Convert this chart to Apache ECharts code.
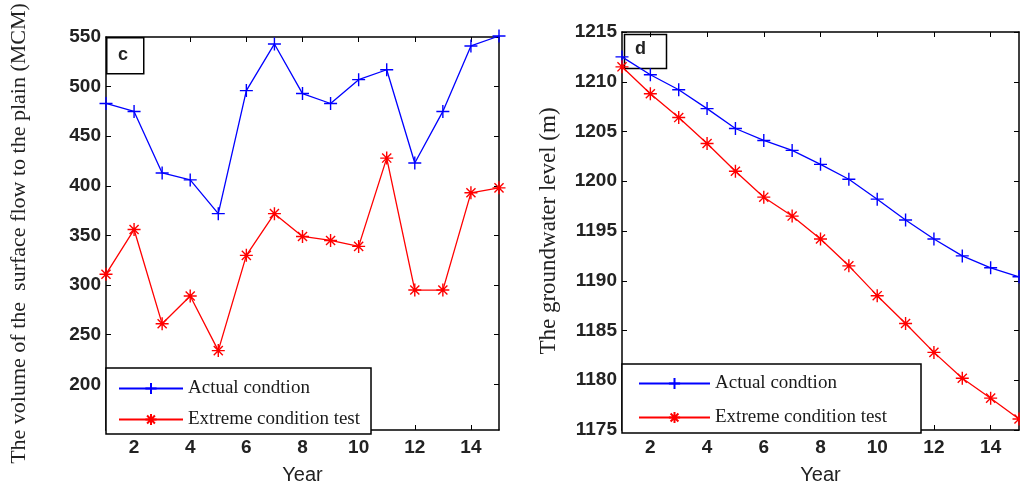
<!DOCTYPE html>
<html>
<head>
<meta charset="utf-8">
<script src="https://cdn.jsdelivr.net/npm/echarts@6/dist/echarts.min.js"></script>
<style>
  html, body { margin: 0; padding: 0; background: #fff; }
  #main { width: 1020px; height: 490px; }
</style>
</head>
<body>
<div id="main"></div>
<script>
  // years on the x axis
  var years = [1, 2, 3, 4, 5, 6, 7, 8, 9, 10, 11, 12, 13, 14, 15];
  var yearTicks = [2, 4, 6, 8, 10, 12, 14];

  // panel c: surface flow to the plain (MCM)
  var surfaceActual = [483, 475, 413, 406, 372, 496, 543, 493, 483, 507, 517, 423, 475, 541, 551];
  var surfaceExtreme = [311, 356, 261, 289, 234, 330, 372, 349, 345, 339, 428, 295, 295, 393, 398];
  var surfaceTicks = [200, 250, 300, 350, 400, 450, 500, 550];

  // panel d: groundwater level (m)
  var gwActual = [1212.5, 1210.7, 1209.2, 1207.3, 1205.3, 1204.1, 1203.1, 1201.7, 1200.2, 1198.2, 1196.1, 1194.2, 1192.5, 1191.3, 1190.4];
  var gwExtreme = [1211.5, 1208.8, 1206.4, 1203.8, 1201.0, 1198.4, 1196.5, 1194.2, 1191.5, 1188.5, 1185.7, 1182.8, 1180.2, 1178.2, 1176.1];

  var seriesNames = ['Actual condtion', 'Extreme condition test'];

  var plusPath = 'path://M0,5L10,5M5,0L5,10';
  var starPath = 'path://M0,5L10,5M5,0L5,10M1.5,1.5L8.5,8.5M1.5,8.5L8.5,1.5';

  function pairs(vals) {
    return years.map(function (y, i) { return [y, vals[i]]; });
  }

  var tickFont = { fontFamily: 'Liberation Sans, Arial', fontSize: 19, fontWeight: 'bold', color: '#222' };
  var axisLine = { show: true, lineStyle: { color: '#000', width: 1.5 } };

  function xAxisFor(gi, pos, labels) {
    return {
      type: 'value', gridIndex: gi, position: pos, min: 1, max: 15,
      name: labels ? 'Year' : '', nameLocation: 'middle', nameGap: 35,
      nameTextStyle: { fontFamily: 'Liberation Sans, Arial', fontSize: 20, color: '#222' },
      axisLine: axisLine, splitLine: { show: false },
      axisTick: { show: true, inside: true, length: 5, customValues: yearTicks, lineStyle: { color: '#000' } },
      axisLabel: Object.assign({ show: labels, margin: 8, customValues: yearTicks }, tickFont)
    };
  }

  function yAxisFor(gi, pos, labels, range, ticks, name, gap, nameSize) {
    var ax = {
      type: 'value', gridIndex: gi, position: pos, min: range[0], max: range[1],
      name: labels ? name : '', nameLocation: 'middle', nameGap: gap,
      nameTextStyle: { fontFamily: 'Liberation Serif, Times New Roman', fontSize: nameSize, color: '#222' },
      axisLine: axisLine, splitLine: { show: false },
      axisTick: { show: true, inside: true, length: 5, lineStyle: { color: '#000' } },
      axisLabel: Object.assign({ show: labels, margin: 5, formatter: function (v) { return String(v); } }, tickFont)
    };
    if (ticks) {
      ax.axisTick.customValues = ticks;
      ax.axisLabel.customValues = ticks;
    } else {
      ax.interval = 5;
    }
    return ax;
  }

  function lineSeries(name, xi, yi, vals, color, symbol) {
    return {
      name: name, type: 'line', xAxisIndex: xi, yAxisIndex: yi,
      data: pairs(vals), clip: false,
      symbol: symbol, symbolSize: 13, showSymbol: true,
      lineStyle: { color: color, width: 1.3 },
      itemStyle: { color: 'none', borderColor: color, borderWidth: 1.4 },
      z: 3
    };
  }

  var legendText = { fontFamily: 'Liberation Serif, Times New Roman', fontSize: 19, color: '#1a1a1a' };

  var myChart = echarts.init(document.getElementById('main'));
  var option = {
    backgroundColor: '#fff',
    animation: false,
    grid: [
      { left: 106, top: 37, width: 393, height: 396 },
      { left: 622, top: 32, width: 397, height: 401 }
    ],
    xAxis: [
      xAxisFor(0, 'bottom', true),
      xAxisFor(0, 'top', false),
      xAxisFor(1, 'bottom', true),
      xAxisFor(1, 'top', false)
    ],
    yAxis: [
      yAxisFor(0, 'left', true, [154, 550], surfaceTicks, 'The volume of the  surface flow to the plain (MCM)', 76, 22),
      yAxisFor(0, 'right', false, [154, 550], surfaceTicks, '', 0, 12),
      yAxisFor(1, 'left', true, [1175, 1215], null, 'The groundwater level (m)', 62, 23),
      yAxisFor(1, 'right', false, [1175, 1215], null, '', 0, 12)
    ],
    legend: [
      {
        data: seriesNames, orient: 'vertical', left: 106, top: 368,
        padding: [11, 11, 5, 12], itemGap: 12, itemWidth: 64, itemHeight: 14,
        backgroundColor: '#fff', borderColor: '#000', borderWidth: 1.5, borderRadius: 0,
        textStyle: legendText
      },
      {
        data: seriesNames, orient: 'vertical', left: 622, top: 364,
        padding: [10, 34, 6, 16], itemGap: 15, itemWidth: 71, itemHeight: 14,
        backgroundColor: '#fff', borderColor: '#000', borderWidth: 1.5, borderRadius: 0,
        textStyle: legendText
      }
    ],
    graphic: [
      { type: 'rect', left: 106, top: 37, shape: { width: 37, height: 36 }, style: { fill: '#fff', stroke: '#000', lineWidth: 1.5 }, z: 1 },
      { type: 'text', left: 118, top: 46, style: { text: 'c', font: 'bold 18px Liberation Sans', fill: '#222' }, z: 2 },
      { type: 'rect', left: 622, top: 32, shape: { width: 42, height: 34 }, style: { fill: 'none', stroke: '#000', lineWidth: 1.5 }, z: 1 },
      { type: 'text', left: 635, top: 40, style: { text: 'd', font: 'bold 18px Liberation Sans', fill: '#222' }, z: 2 }
    ],
    series: [
      lineSeries(seriesNames[0], 0, 0, surfaceActual, '#0000ff', plusPath),
      lineSeries(seriesNames[1], 0, 0, surfaceExtreme, '#ff0000', starPath),
      lineSeries(seriesNames[0], 2, 2, gwActual, '#0000ff', plusPath),
      lineSeries(seriesNames[1], 2, 2, gwExtreme, '#ff0000', starPath)
    ]
  };
  myChart.setOption(option);
</script>
</body>
</html>
